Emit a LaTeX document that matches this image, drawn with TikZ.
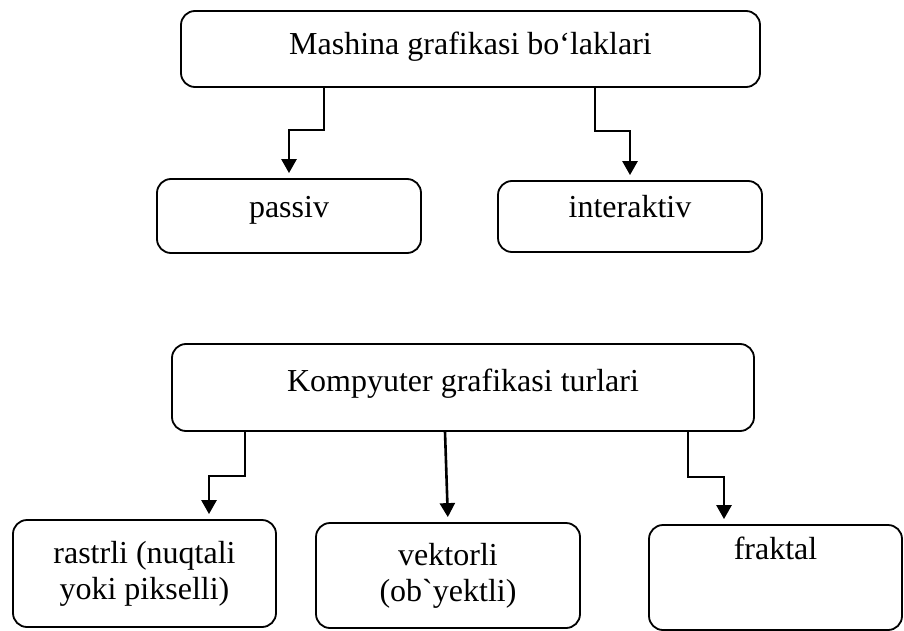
\documentclass[tikz,border=0pt]{standalone}
\usepackage{fontspec}
\setmainfont{Liberation Serif}
\usetikzlibrary{arrows.meta}

\begin{document}
\begin{tikzpicture}[x=1pt, y=-1pt, >={Triangle[width=15pt,length=14pt]},
    box/.style={draw, line width=1.8pt, rounded corners=14pt, align=center,
        inner sep=0pt, font=\fontsize{32}{36}\selectfont},
    conn/.style={->, line width=2.6pt, shorten >=5pt}]
    \useasboundingbox (0,0) rectangle (904,631);

    % Mashina grafikasi
    \node[box, minimum width=579pt, minimum height=76pt, text height=22pt, text depth=10pt]
        (mg) at (470.5,49) {Mashina grafikasi bo‘laklari};
    \node[box, minimum width=264pt, minimum height=74pt, text height=22pt, text depth=20pt]
        (passiv) at (289,216) {passiv};
    \node[box, minimum width=264pt, minimum height=71pt, text height=22pt, text depth=20pt]
        (inter) at (630,216.5) {interaktiv};

    \draw[conn] (mg.south -| 324,0) |- (289,130) -- (passiv.north);
    \draw[conn] (mg.south -| 595,0) |- (630,131) -- (inter.north);

    % Kompyuter grafikasi
    \node[box, minimum width=582pt, minimum height=87pt, text height=22pt, text depth=14pt]
        (kg) at (463,387.5) {Kompyuter grafikasi turlari};
    \node[box, minimum width=263pt, minimum height=107pt]
        (rastr) at (144.5,573.5) {rastrli (nuqtali\\yoki pikselli)};
    \node[box, minimum width=264pt, minimum height=105pt]
        (vektor) at (448,575.5) {vektorli\\(ob\textasciigrave yektli)};
    \node[box, minimum width=253pt, minimum height=105pt, text height=22pt, text depth=58pt]
        (fraktal) at (775.5,577.5) {fraktal};

    \draw[conn] (kg.south -| 245,0) |- (209,476) -- (rastr.north -| 209,0);
    \draw[conn] (kg.south -| 445,0) -- (vektor.north);
    \draw[conn] (kg.south -| 688,0) |- (724,477) -- (fraktal.north -| 724,0);
\end{tikzpicture}
\end{document}
